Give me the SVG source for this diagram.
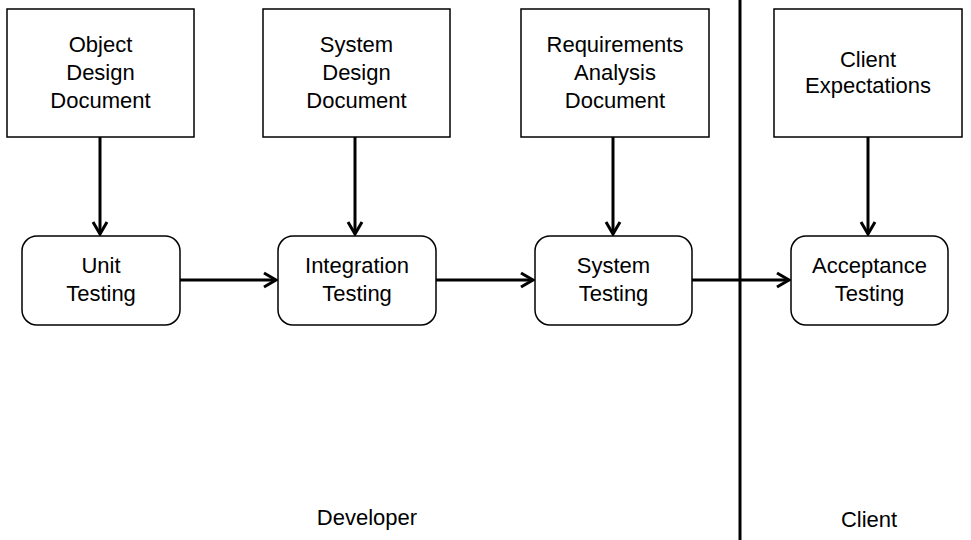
<svg xmlns="http://www.w3.org/2000/svg" width="971" height="540" viewBox="0 0 971 540">
<style>
.box{fill:#fff;stroke:#000;stroke-width:1.5}
.t{font-family:"Liberation Sans",Arial,sans-serif;font-size:22px;fill:#000;text-anchor:middle}
.c{stroke:#000;stroke-width:3;fill:none}
</style>
<defs>
<marker id="ah" markerUnits="userSpaceOnUse" markerWidth="16" markerHeight="18" refX="13" refY="8" orient="auto" viewBox="0 0 16 16">
<path d="M1,1 L13,8 L1,15" fill="none" stroke="#000" stroke-width="3"/>
</marker>
</defs>
<rect width="971" height="540" fill="#fff"/>
<g id="connectors">
<line class="c" x1="100" y1="137" x2="100" y2="234" marker-end="url(#ah)"/>
<line class="c" x1="355" y1="137" x2="355" y2="234" marker-end="url(#ah)"/>
<line class="c" x1="613" y1="137" x2="613" y2="234" marker-end="url(#ah)"/>
<line class="c" x1="868" y1="137" x2="868" y2="234" marker-end="url(#ah)"/>
<line class="c" x1="180" y1="280" x2="276" y2="280" marker-end="url(#ah)"/>
<line class="c" x1="436" y1="280" x2="533" y2="280" marker-end="url(#ah)"/>
<line class="c" x1="692" y1="280" x2="789" y2="280" marker-end="url(#ah)"/>
</g>
<g id="divider"><line x1="740" y1="0" x2="740" y2="540" stroke="#000" stroke-width="3"/></g>
<g id="odd"><rect class="box" x="7" y="9" width="187" height="128"/>
<text class="t" x="100.5"><tspan x="100.5" y="52">Object</tspan><tspan x="100.5" y="80">Design</tspan><tspan x="100.5" y="108">Document</tspan></text></g>
<g id="sdd"><rect class="box" x="263" y="9" width="187" height="128"/>
<text class="t"><tspan x="356.5" y="52">System</tspan><tspan x="356.5" y="80">Design</tspan><tspan x="356.5" y="108">Document</tspan></text></g>
<g id="rad"><rect class="box" x="521" y="9" width="188" height="128"/>
<text class="t"><tspan x="615" y="52">Requirements</tspan><tspan x="615" y="80">Analysis</tspan><tspan x="615" y="108">Document</tspan></text></g>
<g id="ce"><rect class="box" x="774" y="9" width="188" height="128"/>
<text class="t"><tspan x="868" y="67">Client</tspan><tspan x="868" y="93">Expectations</tspan></text></g>
<g id="unit"><rect class="box" x="22" y="236" width="158" height="89" rx="15"/>
<text class="t"><tspan x="101" y="273">Unit</tspan><tspan x="101" y="301">Testing</tspan></text></g>
<g id="integration"><rect class="box" x="278" y="236" width="158" height="89" rx="15"/>
<text class="t"><tspan x="357" y="273">Integration</tspan><tspan x="357" y="301">Testing</tspan></text></g>
<g id="system"><rect class="box" x="535" y="236" width="157" height="89" rx="15"/>
<text class="t"><tspan x="613.5" y="273">System</tspan><tspan x="613.5" y="301">Testing</tspan></text></g>
<g id="acceptance"><rect class="box" x="791" y="236" width="157" height="89" rx="15"/>
<text class="t"><tspan x="869.5" y="273">Acceptance</tspan><tspan x="869.5" y="301">Testing</tspan></text></g>
<g id="labels">
<text class="t" x="367" y="525">Developer</text>
<text class="t" x="869" y="527">Client</text>
</g>
</svg>
